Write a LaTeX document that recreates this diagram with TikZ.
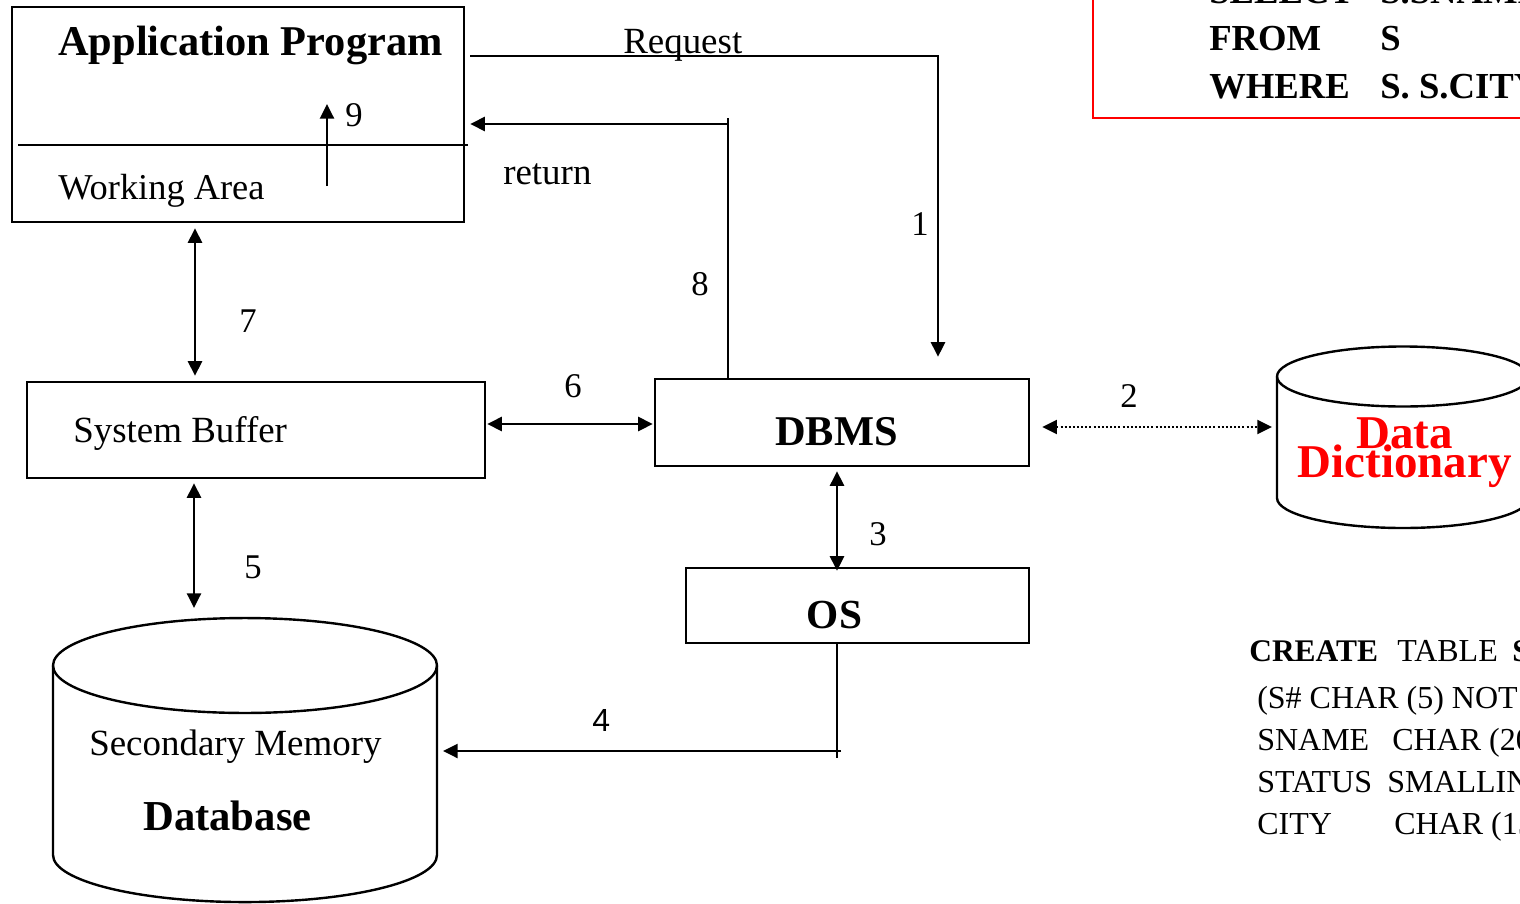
\documentclass[tikz,border=0pt]{standalone}
\usepackage{fontspec}
\setmainfont{Liberation Serif}
\newfontfamily\labelsans{Liberation Sans}
\usetikzlibrary{arrows.meta}
\definecolor{sqlred}{RGB}{255,0,0}
\tikzset{
  ln/.style={line width=1.8pt},
  tip/.tip={Triangle[length=11pt,width=10.5pt]},
  arr/.style={ln,-tip},
  dbl/.style={ln,tip-tip},
  dotarr/.style={line width=1.5pt,dash pattern=on 1.5pt off 1.6pt,tip-tip},
  box/.style={draw,ln,rectangle,inner sep=0pt},
  txt/.style={inner sep=0pt,anchor=base west},
  ctxt/.style={inner sep=0pt,anchor=base},
  fbig/.style={font=\fontsize{31.8}{34}\selectfont\bfseries},
  fmid/.style={font=\fontsize{27.7}{30}\selectfont},
  fnum/.style={font=\fontsize{26}{28}\selectfont},
  fsql/.style={font=\fontsize{27.5}{30}\selectfont\bfseries},
  fddl/.style={font=\fontsize{24}{26}\selectfont},
  fdict/.style={font=\fontsize{35.25}{36}\selectfont\bfseries,text=sqlred},
}
\begin{document}
\begin{tikzpicture}[x=0.75pt,y=-0.75pt]
\useasboundingbox (0,0) rectangle (1520,903);
\clip (0,0) rectangle (1520,903);

% ---- boxes ----
\node[box,minimum width=339pt,minimum height=161.25pt] (app) at (238,114.5) {};
\node[box,minimum width=343.5pt,minimum height=72pt] (buf) at (256,430) {};
\node[box,minimum width=280.5pt,minimum height=65.25pt] (dbms) at (842,422.5) {};
\node[box,minimum width=257.25pt,minimum height=56.25pt] (os) at (857.5,605.5) {};

% divider inside the application program box
\coordinate (dv1) at (18,145);
\coordinate (dv2) at (468,145);
\draw[ln] (dv1) -- (dv2);

% ---- database cylinder ----
\coordinate (dbtop) at (245,618);
\coordinate (dbright) at (437,760);
\draw[ln] (245,665.5) ellipse [x radius=144pt,y radius=35.6pt];
\draw[ln] (53,665.5) -- (53,855)
  arc[start angle=180,end angle=360,x radius=144pt,y radius=35.3pt]
  -- (437,665.5);

% ---- data dictionary cylinder ----
\coordinate (ddleft) at (1277,437);
\draw[ln] (1403,376.5) ellipse [x radius=94.5pt,y radius=22.5pt];
\draw[ln] (1277,376.5) -- (1277,498)
  arc[start angle=180,end angle=360,x radius=94.5pt,y radius=22.5pt]
  -- (1529,376.5);

% ---- SQL query box ----
\draw[sqlred,line width=1.4pt] (1093,-20) rectangle (1560,118);
\node[txt,fsql] (sel) at (1209,3) {SELECT};
\node[txt,fsql] (selc) at (1380,3) {S.SNAME};
\node[txt,fsql] (from) at (1209,50) {FROM};
\node[txt,fsql] (fromc) at (1380,50) {S};
\node[txt,fsql] (where) at (1209,98) {WHERE};
\node[txt,fsql] (wherec) at (1380,98) {S. S.CITY};

% ---- table definition ----
\node[txt,font=\fontsize{23.6}{26}\selectfont\bfseries] (cr) at (1249,661) {CREATE};
\node[txt,fddl] (tb) at (1397,661) {TABLE};
\node[txt,font=\fontsize{23.6}{26}\selectfont\bfseries] (tbs) at (1512,661) {S};
\node[txt,fddl] (r1) at (1257,708) {(S\# CHAR (5) NOT};
\node[txt,fddl] (r2a) at (1257,750) {SNAME};
\node[txt,fddl] (r2b) at (1392,750) {CHAR (20)};
\node[txt,fddl] (r3a) at (1257,792) {STATUS};
\node[txt,fddl] (r3b) at (1387,792) {SMALLINT};
\node[txt,fddl] (r4a) at (1257,834) {CITY};
\node[txt,fddl] (r4b) at (1394,834) {CHAR (15)};

% ---- box texts ----
\node[txt,fbig] (tapp) at (58,55) {Application Program};
\node[txt,font=\fontsize{27.3}{30}\selectfont] (twork) at (58,199) {Working Area};
\node[txt,fmid] (tbuf) at (73,442) {System Buffer};
\node[ctxt,fbig] (tdbms) at (836.5,445) {DBMS};
\node[ctxt,font=\fontsize{31}{34}\selectfont\bfseries] (tos) at (834.5,628) {OS};
\node[txt,fmid] (tsec) at (89,755) {Secondary Memory};
\node[txt,font=\fontsize{32}{34}\selectfont\bfseries] (tdb) at (143,830) {Database};
\node[ctxt,fdict] (tdata) at (1404.5,448) {Data};
\node[ctxt,fdict] (tdict) at (1404.5,477) {Dictionary};

% ---- connectors ----
% 9: working area up to program
\coordinate (n9a) at (327,186);
\coordinate (n9b) at (327,104);
\draw[arr] (n9a) -- (n9b);

% 1: request from the program to the DBMS
\coordinate (req) at (938,56);
\draw[arr,shorten <=3.75pt,shorten >=15.75pt] (app.east |- req) -- (req) -- (dbms.north -| req);

% 8: return from the DBMS to the program
\coordinate (ret) at (728,124);
\coordinate (rettop) at (728,118);
\draw[ln] (dbms.north -| ret) -- (rettop);
\draw[arr,shorten >=3.75pt] (ret) -- (app.east |- ret);

% 7: program <-> system buffer
\coordinate (x7) at (195,0);
\draw[dbl,shorten <=3.75pt,shorten >=3.75pt] (app.south -| x7) -- (buf.north -| x7);

% 5: system buffer <-> database
\coordinate (x5) at (194,0);
\draw[dbl,shorten <=3pt,shorten >=7.5pt] (buf.south -| x5) -- (dbtop -| x5);

% 6: system buffer <-> DBMS
\coordinate (y6) at (0,424);
\draw[dbl,shorten <=0.75pt,shorten >=0.75pt] (buf.east |- y6) -- (dbms.west |- y6);

% 2: DBMS <-> data dictionary
\coordinate (y2) at (0,427);
\draw[dotarr,shorten <=9pt,shorten >=3.75pt] (dbms.east |- y2) -- (ddleft |- y2);

% 3: DBMS <-> OS
\coordinate (x3) at (837,0);
\draw[dbl,shorten <=3pt,shorten >=-3pt] (dbms.south -| x3) -- (os.north -| x3);

% 4: OS to the database
\coordinate (c4) at (837,758);
\coordinate (c4h) at (841,751);
\draw[ln] (os.south -| x3) -- (c4);
\draw[arr,shorten >=4.5pt] (c4h) -- (dbright |- c4h);

% ---- labels ----
\node[txt,fnum] (l9) at (345,126) {9};
\node[txt,fmid] (lreq) at (623,53) {Request};
\node[txt,fmid] (lret) at (503,184) {return};
\node[txt,fnum] (l1) at (911,235) {1};
\node[txt,fnum] (l8) at (691,295) {8};
\node[txt,fnum] (l7) at (239,332) {7};
\node[txt,fnum] (l6) at (564,397) {6};
\node[txt,fnum] (l2) at (1120,407) {2};
\node[txt,fnum] (l3) at (869,545) {3};
\node[txt,fnum] (l5) at (244,578) {5};
\node[txt,font=\fontsize{24}{26}\selectfont\labelsans] (l4) at (592,731) {4};
\end{tikzpicture}
\end{document}
